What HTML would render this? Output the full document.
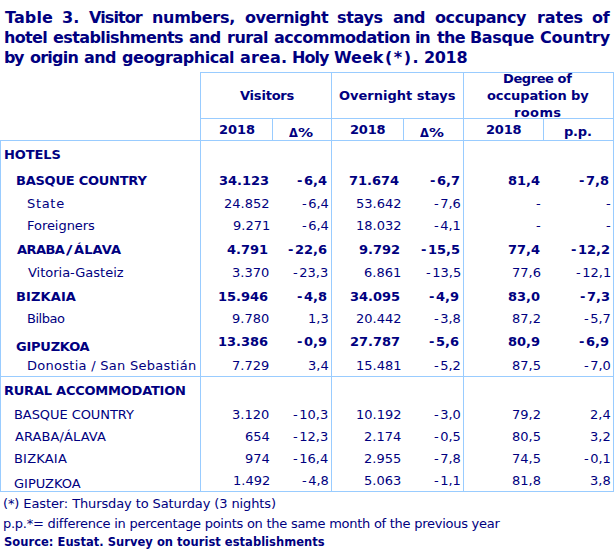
<!DOCTYPE html>
<html><head><meta charset="utf-8"><title>Table 3</title>
<style>
html,body{margin:0;padding:0;background:#fff;}
body{width:616px;height:553px;position:relative;overflow:hidden;font-family:'DejaVu Sans', 'Liberation Sans', sans-serif;color:#000080;}
.t{position:absolute;white-space:pre;line-height:30px;}
.l{position:absolute;background:#99ccff;}
</style></head><body>
<div class="l" style="left:200px;top:72px;width:414px;height:1px"></div>
<div class="l" style="left:200px;top:118px;width:414px;height:1px"></div>
<div class="l" style="left:0px;top:140px;width:614px;height:1px"></div>
<div class="l" style="left:0px;top:376px;width:614px;height:1px"></div>
<div class="l" style="left:0px;top:491px;width:614px;height:1px"></div>
<div class="l" style="left:0px;top:140px;width:1px;height:352px"></div>
<div class="l" style="left:200px;top:72px;width:1px;height:420px"></div>
<div class="l" style="left:331px;top:72px;width:1px;height:420px"></div>
<div class="l" style="left:463px;top:72px;width:1px;height:420px"></div>
<div class="l" style="left:613px;top:72px;width:1px;height:420px"></div>
<div class="l" style="left:272px;top:118px;width:1px;height:23px"></div>
<div class="l" style="left:403px;top:118px;width:1px;height:23px"></div>
<div class="l" style="left:543px;top:118px;width:1px;height:23px"></div>
<div class="t" style="left:5px;top:3px;font-weight:bold;font-size:16px;letter-spacing:0.10px">Table</div>
<div class="t" style="left:62px;top:3px;font-weight:bold;font-size:16px;">3.</div>
<div class="t" style="left:89px;top:3px;font-weight:bold;font-size:16px;letter-spacing:-0.90px">Visitor</div>
<div class="t" style="left:152px;top:3px;font-weight:bold;font-size:16px;letter-spacing:-0.29px">numbers,</div>
<div class="t" style="left:245px;top:3px;font-weight:bold;font-size:16px;letter-spacing:-0.50px">overnight</div>
<div class="t" style="left:337px;top:3px;font-weight:bold;font-size:16px;letter-spacing:-0.35px">stays</div>
<div class="t" style="left:393px;top:3px;font-weight:bold;font-size:16px;letter-spacing:-0.55px">and</div>
<div class="t" style="left:435px;top:3px;font-weight:bold;font-size:16px;letter-spacing:-0.42px">occupancy</div>
<div class="t" style="left:537px;top:3px;font-weight:bold;font-size:16px;letter-spacing:-0.15px">rates</div>
<div class="t" style="left:592px;top:3px;font-weight:bold;font-size:16px;letter-spacing:-0.20px">of</div>
<div class="t" style="left:4px;top:23px;font-weight:bold;font-size:16px;letter-spacing:-0.67px">hotel</div>
<div class="t" style="left:53px;top:23px;font-weight:bold;font-size:16px;letter-spacing:-0.59px">establishments</div>
<div class="t" style="left:189px;top:23px;font-weight:bold;font-size:16px;letter-spacing:-0.70px">and</div>
<div class="t" style="left:227px;top:23px;font-weight:bold;font-size:16px;letter-spacing:-0.48px">rural</div>
<div class="t" style="left:274px;top:23px;font-weight:bold;font-size:16px;letter-spacing:-0.51px">accommodation</div>
<div class="t" style="left:415px;top:23px;font-weight:bold;font-size:16px;letter-spacing:-1.20px">in</div>
<div class="t" style="left:437px;top:23px;font-weight:bold;font-size:16px;letter-spacing:-0.70px">the</div>
<div class="t" style="left:470px;top:23px;font-weight:bold;font-size:16px;letter-spacing:-0.36px">Basque</div>
<div class="t" style="left:540px;top:23px;font-weight:bold;font-size:16px;letter-spacing:-0.22px">Country</div>
<div class="t" style="left:4px;top:43px;font-weight:bold;font-size:16px;letter-spacing:-1.50px">by</div>
<div class="t" style="left:30px;top:43px;font-weight:bold;font-size:16px;letter-spacing:-0.78px">origin</div>
<div class="t" style="left:84px;top:43px;font-weight:bold;font-size:16px;letter-spacing:-0.65px">and</div>
<div class="t" style="left:122px;top:43px;font-weight:bold;font-size:16px;letter-spacing:-0.45px">geographical</div>
<div class="t" style="left:240px;top:43px;font-weight:bold;font-size:16px;letter-spacing:0.18px">area.</div>
<div class="t" style="left:292px;top:43px;font-weight:bold;font-size:16px;letter-spacing:-0.97px">Holy</div>
<div class="t" style="left:334px;top:43px;font-weight:bold;font-size:16px;">Week</div>
<div class="t" style="left:385px;top:43px;font-weight:bold;font-size:16px;letter-spacing:1.50px">(*).</div>
<div class="t" style="left:424px;top:43px;font-weight:bold;font-size:16px;letter-spacing:-0.33px">2018</div>
<div class="t" style="left:240px;top:81px;font-weight:bold;font-size:13px;letter-spacing:-0.21px">Visitors</div>
<div class="t" style="left:339px;top:81px;font-weight:bold;font-size:13px;letter-spacing:0.01px">Overnight stays</div>
<div class="t" style="left:503px;top:64px;font-weight:bold;font-size:13px;letter-spacing:-0.41px">Degree of</div>
<div class="t" style="left:487px;top:81px;font-weight:bold;font-size:13px;letter-spacing:-0.10px">occupation by</div>
<div class="t" style="left:514px;top:98px;font-weight:bold;font-size:13px;letter-spacing:0.38px">rooms</div>
<div class="t" style="left:219px;top:115px;font-weight:bold;font-size:13px;letter-spacing:-0.07px">2018</div>
<div class="t" style="left:289px;top:118px;font-weight:bold;font-size:13px;transform:scaleX(0.8800);transform-origin:0 0;">Δ</div>
<div class="t" style="left:298px;top:118px;font-weight:bold;font-size:13px;transform:scaleX(1.1615);transform-origin:0 0;">%</div>
<div class="t" style="left:350px;top:115px;font-weight:bold;font-size:13px;letter-spacing:-0.23px">2018</div>
<div class="t" style="left:420px;top:118px;font-weight:bold;font-size:13px;transform:scaleX(0.8800);transform-origin:0 0;">Δ</div>
<div class="t" style="left:429px;top:118px;font-weight:bold;font-size:13px;transform:scaleX(1.1462);transform-origin:0 0;">%</div>
<div class="t" style="left:486px;top:115px;font-weight:bold;font-size:13px;letter-spacing:-0.23px">2018</div>
<div class="t" style="left:564px;top:117px;font-weight:bold;font-size:13px;letter-spacing:-0.20px">p.p.</div>
<div class="t" style="left:4px;top:140px;font-weight:bold;font-size:13px;letter-spacing:-0.10px">HOTELS</div>
<div class="t" style="left:16px;top:166px;font-weight:bold;font-size:13px;letter-spacing:-0.24px">BASQUE COUNTRY</div>
<div class="t" style="left:27px;top:189px;font-weight:normal;font-size:13px;letter-spacing:0.68px">State</div>
<div class="t" style="left:27px;top:211px;font-weight:normal;font-size:13px;letter-spacing:-0.04px">Foreigners</div>
<div class="t" style="left:17px;top:235px;font-weight:bold;font-size:13px;letter-spacing:-0.57px">ARABA</div>
<div class="t" style="left:66px;top:235px;font-weight:bold;font-size:13px;transform:scaleX(1.3600);transform-origin:0 0;">/</div>
<div class="t" style="left:74px;top:235px;font-weight:bold;font-size:13px;letter-spacing:0.10px">ÁLAVA</div>
<div class="t" style="left:28px;top:258px;font-weight:normal;font-size:13px;letter-spacing:-0.01px">Vitoria-Gasteiz</div>
<div class="t" style="left:16px;top:282px;font-weight:bold;font-size:13px;letter-spacing:0.12px">BIZKAIA</div>
<div class="t" style="left:27px;top:304px;font-weight:normal;font-size:13px;letter-spacing:-0.46px">Bilbao</div>
<div class="t" style="left:16px;top:332px;font-weight:bold;font-size:13px;letter-spacing:-0.23px">GIPUZKOA</div>
<div class="t" style="left:27px;top:351px;font-weight:normal;font-size:13px;letter-spacing:0.27px">Donostia / San Sebastián</div>
<div class="t" style="left:4px;top:376px;font-weight:bold;font-size:13px;letter-spacing:-0.23px">RURAL ACCOMMODATION</div>
<div class="t" style="left:14px;top:400px;font-weight:normal;font-size:13px;letter-spacing:-0.07px">BASQUE COUNTRY</div>
<div class="t" style="left:15px;top:422px;font-weight:normal;font-size:13px;letter-spacing:0.09px">ARABA/ÁLAVA</div>
<div class="t" style="left:14px;top:444px;font-weight:normal;font-size:13px;letter-spacing:0.20px">BIZKAIA</div>
<div class="t" style="left:14px;top:469px;font-weight:normal;font-size:13px;letter-spacing:-0.01px">GIPUZKOA</div>
<div class="t" style="left:219px;top:166px;font-weight:bold;font-size:13px;">34.123</div>
<div class="t" style="left:297px;top:166px;font-weight:bold;font-size:13px;"><span style="margin-right:1.5px">-</span>6,4</div>
<div class="t" style="left:349px;top:166px;font-weight:bold;font-size:13px;">71.674</div>
<div class="t" style="left:430px;top:166px;font-weight:bold;font-size:13px;"><span style="margin-right:1.5px">-</span>6,7</div>
<div class="t" style="left:508px;top:166px;font-weight:bold;font-size:13px;">81,4</div>
<div class="t" style="left:579px;top:166px;font-weight:bold;font-size:13px;"><span style="margin-right:1.5px">-</span>7,8</div>
<div class="t" style="left:224px;top:189px;font-weight:normal;font-size:13px;">24.852</div>
<div class="t" style="left:302px;top:189px;font-weight:normal;font-size:13px;"><span style="margin-right:1.5px">-</span>6,4</div>
<div class="t" style="left:356px;top:189px;font-weight:normal;font-size:13px;">53.642</div>
<div class="t" style="left:434px;top:189px;font-weight:normal;font-size:13px;"><span style="margin-right:1.5px">-</span>7,6</div>
<div class="t" style="left:536px;top:189px;font-weight:normal;font-size:13px;">-</div>
<div class="t" style="left:606px;top:189px;font-weight:normal;font-size:13px;">-</div>
<div class="t" style="left:233px;top:211px;font-weight:normal;font-size:13px;">9.271</div>
<div class="t" style="left:302px;top:211px;font-weight:normal;font-size:13px;"><span style="margin-right:1.5px">-</span>6,4</div>
<div class="t" style="left:356px;top:211px;font-weight:normal;font-size:13px;">18.032</div>
<div class="t" style="left:434px;top:211px;font-weight:normal;font-size:13px;"><span style="margin-right:1.5px">-</span>4,1</div>
<div class="t" style="left:536px;top:211px;font-weight:normal;font-size:13px;">-</div>
<div class="t" style="left:606px;top:211px;font-weight:normal;font-size:13px;">-</div>
<div class="t" style="left:227px;top:235px;font-weight:bold;font-size:13px;">4.791</div>
<div class="t" style="left:288px;top:235px;font-weight:bold;font-size:13px;"><span style="margin-right:1.5px">-</span>22,6</div>
<div class="t" style="left:359px;top:235px;font-weight:bold;font-size:13px;">9.792</div>
<div class="t" style="left:421px;top:235px;font-weight:bold;font-size:13px;"><span style="margin-right:1.5px">-</span>15,5</div>
<div class="t" style="left:508px;top:235px;font-weight:bold;font-size:13px;">77,4</div>
<div class="t" style="left:571px;top:235px;font-weight:bold;font-size:13px;"><span style="margin-right:1.5px">-</span>12,2</div>
<div class="t" style="left:232px;top:258px;font-weight:normal;font-size:13px;">3.370</div>
<div class="t" style="left:293px;top:258px;font-weight:normal;font-size:13px;"><span style="margin-right:1.5px">-</span>23,3</div>
<div class="t" style="left:364px;top:258px;font-weight:normal;font-size:13px;">6.861</div>
<div class="t" style="left:426px;top:258px;font-weight:normal;font-size:13px;"><span style="margin-right:1.5px">-</span>13,5</div>
<div class="t" style="left:512px;top:258px;font-weight:normal;font-size:13px;">77,6</div>
<div class="t" style="left:576px;top:258px;font-weight:normal;font-size:13px;"><span style="margin-right:1.5px">-</span>12,1</div>
<div class="t" style="left:218px;top:282px;font-weight:bold;font-size:13px;">15.946</div>
<div class="t" style="left:297px;top:282px;font-weight:bold;font-size:13px;"><span style="margin-right:1.5px">-</span>4,8</div>
<div class="t" style="left:350px;top:282px;font-weight:bold;font-size:13px;">34.095</div>
<div class="t" style="left:429px;top:282px;font-weight:bold;font-size:13px;"><span style="margin-right:1.5px">-</span>4,9</div>
<div class="t" style="left:508px;top:282px;font-weight:bold;font-size:13px;">83,0</div>
<div class="t" style="left:580px;top:282px;font-weight:bold;font-size:13px;"><span style="margin-right:1.5px">-</span>7,3</div>
<div class="t" style="left:232px;top:304px;font-weight:normal;font-size:13px;">9.780</div>
<div class="t" style="left:308px;top:304px;font-weight:normal;font-size:13px;">1,3</div>
<div class="t" style="left:356px;top:304px;font-weight:normal;font-size:13px;">20.442</div>
<div class="t" style="left:434px;top:304px;font-weight:normal;font-size:13px;"><span style="margin-right:1.5px">-</span>3,8</div>
<div class="t" style="left:512px;top:304px;font-weight:normal;font-size:13px;">87,2</div>
<div class="t" style="left:584px;top:304px;font-weight:normal;font-size:13px;"><span style="margin-right:1.5px">-</span>5,7</div>
<div class="t" style="left:218px;top:327px;font-weight:bold;font-size:13px;">13.386</div>
<div class="t" style="left:297px;top:327px;font-weight:bold;font-size:13px;"><span style="margin-right:1.5px">-</span>0,9</div>
<div class="t" style="left:350px;top:327px;font-weight:bold;font-size:13px;">27.787</div>
<div class="t" style="left:429px;top:327px;font-weight:bold;font-size:13px;"><span style="margin-right:1.5px">-</span>5,6</div>
<div class="t" style="left:508px;top:327px;font-weight:bold;font-size:13px;">80,9</div>
<div class="t" style="left:579px;top:327px;font-weight:bold;font-size:13px;"><span style="margin-right:1.5px">-</span>6,9</div>
<div class="t" style="left:232px;top:351px;font-weight:normal;font-size:13px;">7.729</div>
<div class="t" style="left:308px;top:351px;font-weight:normal;font-size:13px;">3,4</div>
<div class="t" style="left:356px;top:351px;font-weight:normal;font-size:13px;">15.481</div>
<div class="t" style="left:434px;top:351px;font-weight:normal;font-size:13px;"><span style="margin-right:1.5px">-</span>5,2</div>
<div class="t" style="left:512px;top:351px;font-weight:normal;font-size:13px;">87,5</div>
<div class="t" style="left:584px;top:351px;font-weight:normal;font-size:13px;"><span style="margin-right:1.5px">-</span>7,0</div>
<div class="t" style="left:232px;top:400px;font-weight:normal;font-size:13px;">3.120</div>
<div class="t" style="left:293px;top:400px;font-weight:normal;font-size:13px;"><span style="margin-right:1.5px">-</span>10,3</div>
<div class="t" style="left:356px;top:400px;font-weight:normal;font-size:13px;">10.192</div>
<div class="t" style="left:434px;top:400px;font-weight:normal;font-size:13px;"><span style="margin-right:1.5px">-</span>3,0</div>
<div class="t" style="left:512px;top:400px;font-weight:normal;font-size:13px;">79,2</div>
<div class="t" style="left:590px;top:400px;font-weight:normal;font-size:13px;">2,4</div>
<div class="t" style="left:245px;top:422px;font-weight:normal;font-size:13px;">654</div>
<div class="t" style="left:293px;top:422px;font-weight:normal;font-size:13px;"><span style="margin-right:1.5px">-</span>12,3</div>
<div class="t" style="left:364px;top:422px;font-weight:normal;font-size:13px;">2.174</div>
<div class="t" style="left:434px;top:422px;font-weight:normal;font-size:13px;"><span style="margin-right:1.5px">-</span>0,5</div>
<div class="t" style="left:512px;top:422px;font-weight:normal;font-size:13px;">80,5</div>
<div class="t" style="left:590px;top:422px;font-weight:normal;font-size:13px;">3,2</div>
<div class="t" style="left:245px;top:444px;font-weight:normal;font-size:13px;">974</div>
<div class="t" style="left:293px;top:444px;font-weight:normal;font-size:13px;"><span style="margin-right:1.5px">-</span>16,4</div>
<div class="t" style="left:364px;top:444px;font-weight:normal;font-size:13px;">2.955</div>
<div class="t" style="left:434px;top:444px;font-weight:normal;font-size:13px;"><span style="margin-right:1.5px">-</span>7,8</div>
<div class="t" style="left:512px;top:444px;font-weight:normal;font-size:13px;">74,5</div>
<div class="t" style="left:584px;top:444px;font-weight:normal;font-size:13px;"><span style="margin-right:1.5px">-</span>0,1</div>
<div class="t" style="left:233px;top:466px;font-weight:normal;font-size:13px;">1.492</div>
<div class="t" style="left:302px;top:466px;font-weight:normal;font-size:13px;"><span style="margin-right:1.5px">-</span>4,8</div>
<div class="t" style="left:364px;top:466px;font-weight:normal;font-size:13px;">5.063</div>
<div class="t" style="left:434px;top:466px;font-weight:normal;font-size:13px;"><span style="margin-right:1.5px">-</span>1,1</div>
<div class="t" style="left:512px;top:466px;font-weight:normal;font-size:13px;">81,8</div>
<div class="t" style="left:590px;top:466px;font-weight:normal;font-size:13px;">3,8</div>
<div class="t" style="left:3px;top:489px;font-weight:normal;font-size:13px;letter-spacing:-0.11px">(*) Easter: Thursday to Saturday (3 nights)</div>
<div class="t" style="left:3px;top:508.5px;font-weight:normal;font-size:13px;letter-spacing:-0.26px">p.p.*= difference in percentage points on the same month of the previous year</div>
<div class="t" style="left:4px;top:527px;font-weight:bold;font-size:11.5px;letter-spacing:0.03px">Source: Eustat. Survey on tourist establishments</div>
</body></html>
